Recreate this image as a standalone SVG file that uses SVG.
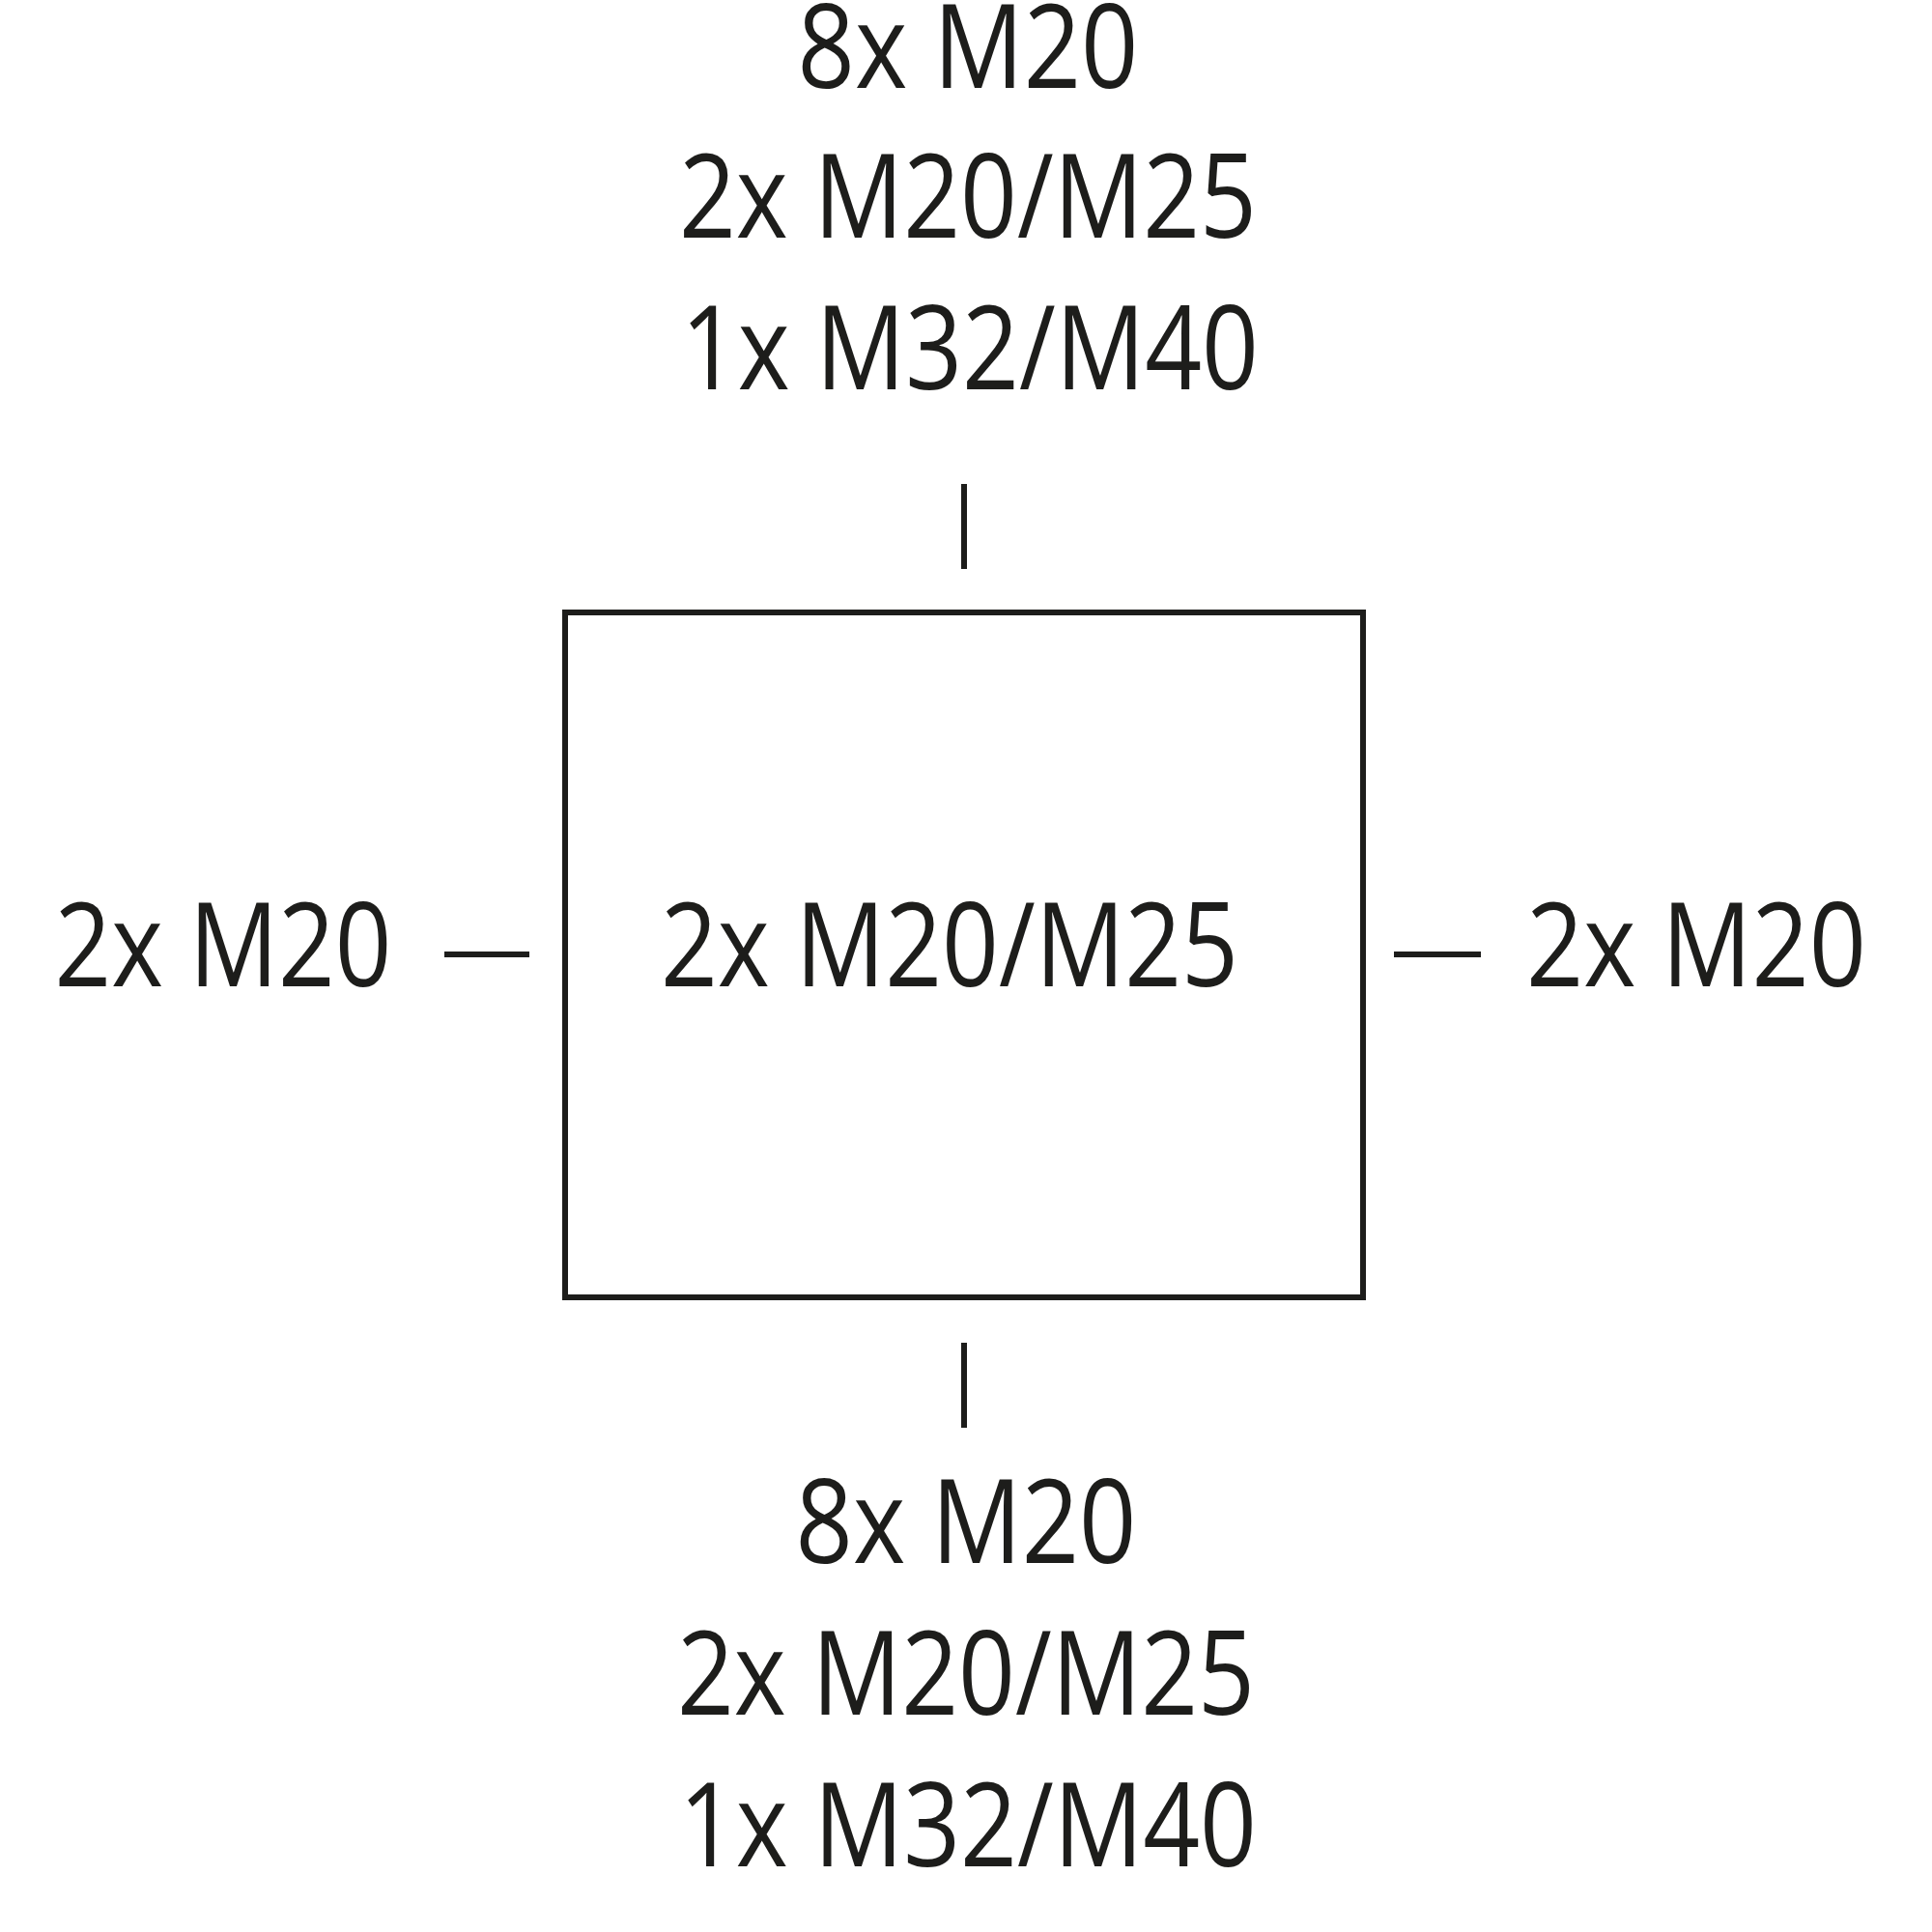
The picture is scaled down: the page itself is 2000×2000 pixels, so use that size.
<svg xmlns="http://www.w3.org/2000/svg" width="2000" height="2000" viewBox="0 0 2000 2000">
<style>
text{font-family:"Open Sans","Noto Sans",sans-serif;font-size:120px;fill:#1d1d1b;text-anchor:middle}
.l{stroke:#1d1d1b;stroke-width:6;fill:none}
</style>
<rect width="2000" height="2000" fill="#fff"/>
<g id="box"><rect class="l" x="585" y="634" width="826" height="709" stroke-width="5"/>
<text x="983" y="1021" textLength="598" lengthAdjust="spacingAndGlyphs">2x M20/M25</text></g>
<g id="top">
<text x="1002" y="91" textLength="353" lengthAdjust="spacingAndGlyphs">8x M20</text>
<text x="1002" y="246" textLength="598" lengthAdjust="spacingAndGlyphs">2x M20/M25</text>
<text x="1004" y="403" textLength="598" lengthAdjust="spacingAndGlyphs">1x M32/M40</text></g>
<g id="bottom">
<text x="1000" y="1618" textLength="353" lengthAdjust="spacingAndGlyphs">8x M20</text>
<text x="1000" y="1775" textLength="598" lengthAdjust="spacingAndGlyphs">2x M20/M25</text>
<text x="1002" y="1932" textLength="598" lengthAdjust="spacingAndGlyphs">1x M32/M40</text></g>
<g id="left"><text x="231" y="1021" textLength="349" lengthAdjust="spacingAndGlyphs">2x M20</text></g>
<g id="right"><text x="1756" y="1021" textLength="352" lengthAdjust="spacingAndGlyphs">2x M20</text></g>
<g id="connectors">
<line class="l" x1="998" y1="501" x2="998" y2="589"/>
<line class="l" x1="998" y1="1390" x2="998" y2="1478"/>
<line class="l" x1="460" y1="988" x2="548" y2="988"/>
<line class="l" x1="1443" y1="988" x2="1533" y2="988"/>
</g>
</svg>
